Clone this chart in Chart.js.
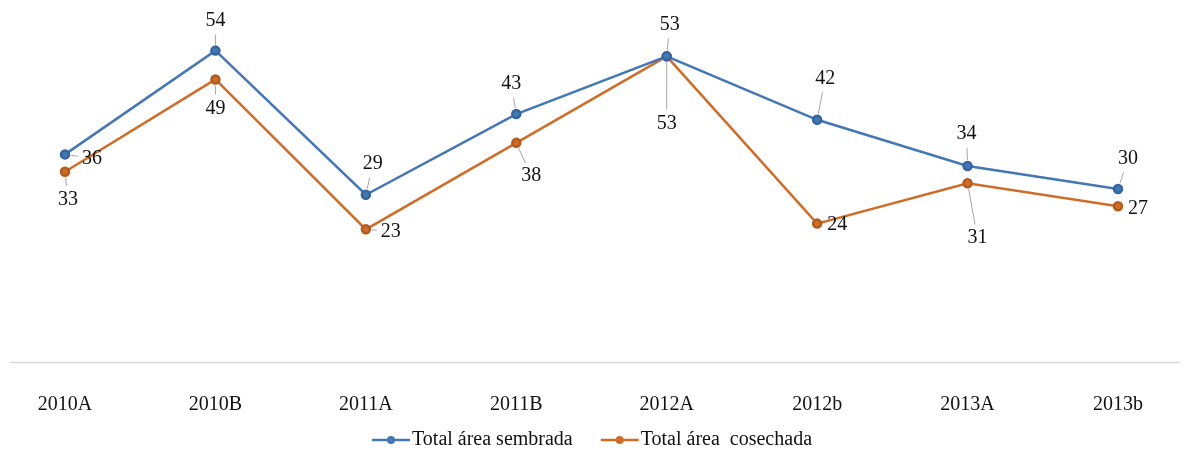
<!DOCTYPE html>
<html>
<head>
<meta charset="utf-8">
<script src="https://cdn.jsdelivr.net/npm/chart.js@4.4.1/dist/chart.umd.min.js"></script>
<style>
  html, body { margin: 0; padding: 0; background: #fff; }
  #wrap { width: 1188px; height: 457px; }
</style>
</head>
<body>
<div id="wrap"><canvas id="grafico"></canvas></div>
<script>
// datos
const periodos = ["2010A", "2010B", "2011A", "2011B", "2012A", "2012b", "2013A", "2013b"];
const sembrada = [36, 54, 29, 43, 53, 42, 34, 30];
const cosechada = [33, 49, 23, 38, 53, 24, 31, 27];

// posición de cada etiqueta respecto a su punto (px)
const offSembrada = [[27, 4], [0, -30], [7, -31], [-5, -30], [3, -32], [8, -41], [-1, -32], [10, -30]];
const offCosechada = [[3, 28], [0, 29], [25, 2], [15, 33], [0, 67], [20, 1], [10, 55], [20, 2]];

const azul = "#4577b5";
const naranja = "#cf6c28";
const fuente = "'Liberation Serif', 'DejaVu Serif', serif";

const etiquetas = {
  id: "etiquetas",
  afterDatasetsDraw(chart) {
    const ctx = chart.ctx;
    const offs = [offSembrada, offCosechada];
    ctx.save();
    ctx.font = "20px " + fuente;
    ctx.textAlign = "center";
    ctx.textBaseline = "middle";
    chart.data.datasets.forEach((ds, i) => {
      const meta = chart.getDatasetMeta(i);
      meta.data.forEach((p, j) => {
        const [dx, dy] = offs[i][j];
        const lx = p.x + dx, ly = p.y + dy;
        const d = Math.hypot(dx, dy);
        const ux = dx / d, uy = dy / d;
        const largo = d - 6 - 14;
        if (largo > 2) {
          ctx.strokeStyle = "#a6a6a6";
          ctx.lineWidth = 1;
          ctx.beginPath();
          ctx.moveTo(p.x + ux * 6, p.y + uy * 6);
          ctx.lineTo(lx - ux * 14, ly - uy * 14);
          ctx.stroke();
        }
        ctx.fillStyle = "#111";
        ctx.fillText(String(ds.data[j]), lx, ly);
      });
    });
    ctx.restore();
  }
};

// línea base del eje, más ancha que el área de datos
const lineaBase = {
  id: "lineaBase",
  beforeDatasetsDraw(chart) {
    const ctx = chart.ctx;
    const y = chart.chartArea.bottom + 0.5;
    ctx.save();
    ctx.strokeStyle = "#d9d9d9";
    ctx.lineWidth = 1.5;
    ctx.beginPath();
    ctx.moveTo(10, y);
    ctx.lineTo(1180, y);
    ctx.stroke();
    ctx.restore();
  }
};

// leyenda tipo Excel: línea con punto y texto
const leyenda = {
  id: "leyenda",
  afterDraw(chart) {
    const ctx = chart.ctx;
    const y = 440;
    let x = 372;
    ctx.save();
    ctx.font = "20px " + fuente;
    ctx.textBaseline = "middle";
    ctx.textAlign = "left";
    chart.data.datasets.forEach(ds => {
      ctx.strokeStyle = ds.borderColor;
      ctx.lineWidth = 2.5;
      ctx.beginPath();
      ctx.moveTo(x, y);
      ctx.lineTo(x + 38, y);
      ctx.stroke();
      ctx.fillStyle = ds.borderColor;
      ctx.beginPath();
      ctx.arc(x + 19, y, 4, 0, Math.PI * 2);
      ctx.fill();
      ctx.fillStyle = "#111";
      ctx.fillText(ds.label, x + 40, y);
      x += 40 + ctx.measureText(ds.label).width + 28;
    });
    ctx.restore();
  }
};

new Chart(document.getElementById("grafico"), {
  type: "line",
  data: {
    labels: periodos,
    datasets: [
      {
        label: "Total área sembrada",
        data: sembrada,
        borderColor: azul,
        backgroundColor: azul,
        borderWidth: 2.5,
        pointRadius: 4,
        pointBorderColor: "#36649c",
        pointBackgroundColor: azul,
        tension: 0
      },
      {
        label: "Total área  cosechada",
        data: cosechada,
        borderColor: naranja,
        backgroundColor: naranja,
        borderWidth: 2.5,
        pointRadius: 4,
        pointBorderColor: "#b35a1e",
        pointBackgroundColor: naranja,
        tension: 0
      }
    ]
  },
  options: {
    responsive: true,
    maintainAspectRatio: false,
    animation: false,
    layout: { padding: { left: 65, right: 70, top: 16, bottom: 9 } },
    plugins: {
      tooltip: { enabled: false },
      legend: { display: false }
    },
    scales: {
      x: {
        offset: false,
        grid: { display: false, drawTicks: false },
        border: { display: false },
        ticks: {
          padding: 31,
          color: "#111",
          font: { family: fuente, size: 20 },
          maxRotation: 0
        }
      },
      y: {
        display: false,
        min: 0,
        max: 60
      }
    }
  },
  plugins: [lineaBase, etiquetas, leyenda]
});
</script>
</body>
</html>
